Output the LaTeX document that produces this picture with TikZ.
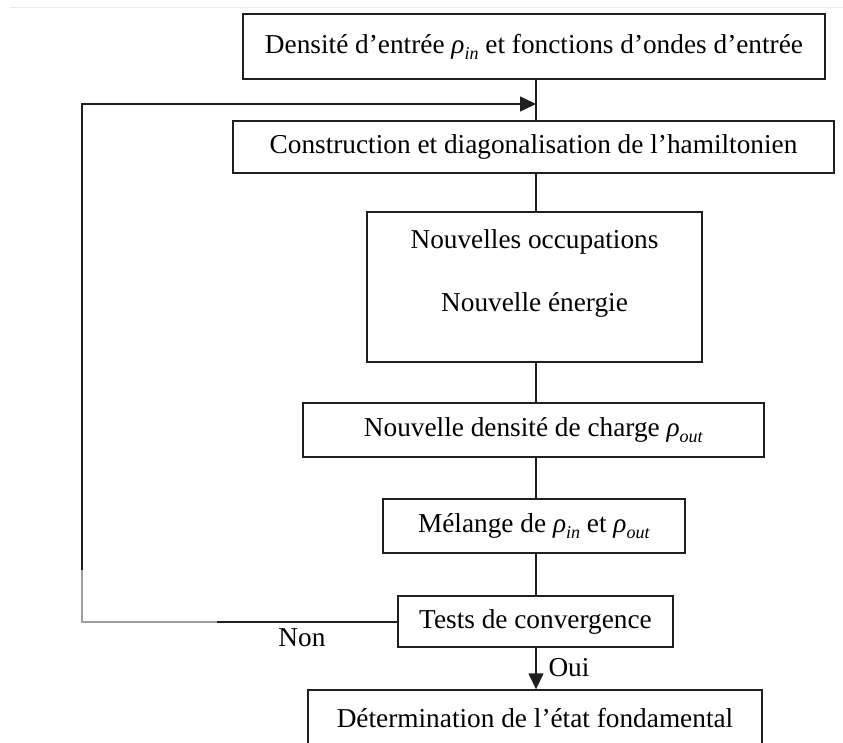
\documentclass[tikz,border=0pt]{standalone}
\usepackage{fontspec}
\setmainfont{Liberation Serif}
\usetikzlibrary{arrows.meta}
\newcommand{\rh}[1]{\textit{ρ}\raisebox{-0.22em}{\fontsize{18}{18}\selectfont\textit{#1}}}
\begin{document}
\begin{tikzpicture}[x=1pt,y=-1pt,
  box/.style={draw=black!88, line width=1.4pt, inner sep=0pt, font=\fontsize{27.3}{32}\selectfont, align=center},
  conn/.style={line width=1.4pt, draw=black!88},
  arr/.style={conn, -{Triangle[length=16pt,width=15pt]}},
  lbl/.style={font=\fontsize{27.3}{32}\selectfont, inner sep=0pt}]
\useasboundingbox (0,0) rectangle (843,742);
\clip (0,0) rectangle (843,742);
\fill[white] (0,0) rectangle (843,742);
\draw[black!8, line width=1pt] (10,7) -- (843,7);

\node[box, minimum width=582pt, minimum height=65pt] (b1) at (534,46.5) {Densité d’entrée \rh{in} et fonctions d’ondes d’entrée};
\node[box, minimum width=601pt, minimum height=52pt] (b2) at (533.5,147) {Construction et diagonalisation de l’hamiltonien};
\node[box, minimum width=335pt, minimum height=150pt] (b3) at (534.5,287) {};
\node[lbl] (b3a) at (534.5,242) {Nouvelles occupations};
\node[lbl] (b3b) at (534.5,305) {Nouvelle énergie};
\node[box, minimum width=461pt, minimum height=54pt] (b4) at (533.5,430) {Nouvelle densité de charge \rh{out}};
\node[box, minimum width=302pt, minimum height=54pt] (b5) at (534,526) {Mélange de \rh{in} et \rh{out}};
\node[box, minimum width=275pt, minimum height=51pt] (b6) at (535.5,621.5) {Tests de convergence};
\node[box, minimum width=454pt, minimum height=56pt] (b7) at (535,718) {Détermination de l’état fondamental};

\coordinate (sp) at (536,0);
\coordinate (j) at (536,104);
\coordinate (lt) at (82,104);
\coordinate (lb) at (82,622);
\coordinate (lg) at (82,570);
\coordinate (lh) at (217,622);

\draw[conn] (b1.south -| sp) -- (b2.north -| sp);
\draw[conn] (b2.south -| sp) -- (b3.north -| sp);
\draw[conn] (b3.south -| sp) -- (b4.north -| sp);
\draw[conn] (b4.south -| sp) -- (b5.north -| sp);
\draw[conn] (b5.south -| sp) -- (b6.north -| sp);
\draw[arr] (b6.south -| sp) -- (b7.north -| sp);

\draw[arr] (b6.west |- lb) -- (lb) -- (lt) -- (j);
\draw[conn, draw=gray!75] (lg) -- (lb) -- (lh);

\node[lbl] (non) at (302,638) {Non};
\node[lbl] (oui) at (569,668) {Oui};
\end{tikzpicture}
\end{document}
